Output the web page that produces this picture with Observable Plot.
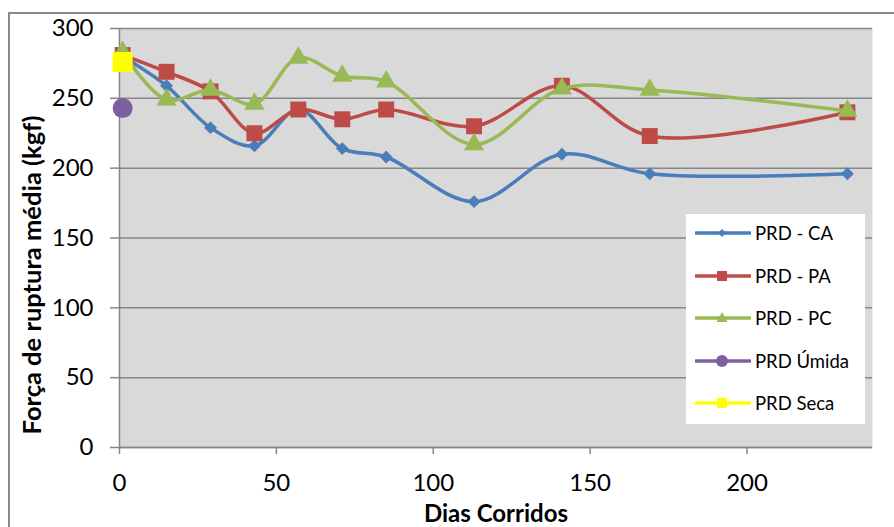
<!DOCTYPE html>
<html>
<head>
<meta charset="utf-8">
<script src="https://cdn.jsdelivr.net/npm/d3@7"></script>
<script src="https://cdn.jsdelivr.net/npm/@observablehq/plot@0.6"></script>
<style>
  html, body { margin: 0; padding: 0; background: #fff; overflow: hidden; }
  #wrap { position: relative; width: 894px; height: 527px; font-family: Lato, "Open Sans", sans-serif; }
  #border { position: absolute; left: 8px; top: 12px; width: 900px; height: 540px; border: 2px solid #8a8a8a; box-sizing: border-box; }
  #chart { position: absolute; left: 0; top: 0; }
  #legend { position: absolute; left: 686px; top: 214px; width: 179px; height: 210px; background: #fff; }
  .item { position: absolute; left: 0; height: 30px; display: flex; align-items: center; font-size: 18.5px; color: #000; }
  .item svg { margin-left: 9px; margin-right: 4px; }
</style>
</head>
<body>
<div id="wrap">
  <div id="border"></div>
  <div id="chart"></div>
  <div id="legend"></div>
</div>
<script>
// ---- data ----
const dias = [1, 15, 29, 43, 57, 71, 85, 113, 141, 169, 232];
const ca = [280, 259, 229, 216, 242, 214, 208, 176, 210, 196, 196];
const pa = [281, 269, 255, 225, 242, 235, 242, 230, 259, 223, 240];
const pc = [283, 249, 256, 246, 279, 266, 262, 217, 257, 256, 241];
const umidaDia = [1];
const umida = [243];
const secaDia = [1];
const seca = [276];
const seriesNames = ["PRD - CA", "PRD - PA", "PRD - PC", "PRD Úmida", "PRD Seca"];
const xTicks = [0, 50, 100, 150, 200];
const yTicks = [0, 50, 100, 150, 200, 250, 300];
const xLabel = "Dias Corridos";
const yLabel = "Força de ruptura média (kgf)";

const colors = ["#4a7ebb", "#be4b48", "#98b954", "#7d60a0", "#ffff00"];
const symbols = ["diamond2", "square", "triangle", "circle", "square"];

const mk = (xs, ys, s) => xs.map((d, i) => ({dia: d, v: ys[i], s}));
const dCA = mk(dias, ca, seriesNames[0]);
const dPA = mk(dias, pa, seriesNames[1]);
const dPC = mk(dias, pc, seriesNames[2]);
const dUm = mk(umidaDia, umida, seriesNames[3]);
const dSe = mk(secaDia, seca, seriesNames[4]);

const fontFam = 'Lato, "Open Sans", sans-serif';
const lineW = 3.5;

const plot = Plot.plot({
  width: 894,
  height: 527,
  marginLeft: 119,
  marginRight: 22,
  marginTop: 28,
  marginBottom: 80,
  style: {fontFamily: fontFam, background: "transparent", overflow: "visible"},
  x: {domain: [0, 240]},
  y: {domain: [0, 300]},
  marks: [
    Plot.frame({fill: "#d9d9d9", stroke: null}),
    Plot.gridY(yTicks, {stroke: "#868686", strokeOpacity: 1, strokeWidth: 1.5}),
    Plot.ruleX([0], {stroke: "#868686", strokeWidth: 1.5}),
    Plot.ruleY([0], {stroke: "#868686", strokeWidth: 1.5}),
    Plot.axisY(yTicks, {tickSize: 9, tickPadding: 17, fontSize: 24, label: null, stroke: "#868686", strokeWidth: 1.5, fill: "#000"}),
    Plot.axisX(xTicks, {tickSize: 7, tickPadding: 19, fontSize: 24, label: null, stroke: "#868686", strokeWidth: 1.5, fill: "#000"}),
    // CA
    Plot.line(dCA, {x: "dia", y: "v", curve: "catmull-rom", stroke: colors[0], strokeWidth: lineW}),
    Plot.dot(dCA, {x: "dia", y: "v", symbol: () => symbols[0], r: 5.8, fill: colors[0], stroke: null}),
    // PA
    Plot.line(dPA, {x: "dia", y: "v", curve: "catmull-rom", stroke: colors[1], strokeWidth: lineW}),
    Plot.dot(dPA, {x: "dia", y: "v", symbol: () => symbols[1], r: 9, fill: colors[1], stroke: null}),
    // PC
    Plot.line(dPC, {x: "dia", y: "v", curve: "catmull-rom", stroke: colors[2], strokeWidth: lineW}),
    Plot.dot(dPC, {x: "dia", y: "v", symbol: () => symbols[2], r: 7.5, fill: colors[2], stroke: null}),
    // Úmida
    Plot.dot(dUm, {x: "dia", y: "v", symbol: () => symbols[3], r: 10, fill: colors[3], stroke: null}),
    // Seca
    Plot.dot(dSe, {x: "dia", y: "v", symbol: () => symbols[4], r: 11.3, fill: colors[4], stroke: null}),
    // axis titles
    Plot.text([xLabel], {frameAnchor: "bottom", dy: 74, fontSize: 24, fontWeight: "bold", fill: "#000", text: d => d}),
    Plot.text([yLabel], {frameAnchor: "left", textAnchor: "middle", rotate: -90, dx: -87, dy: 37, fontSize: 25.5, fontWeight: "bold", fill: "#000", text: d => d})
  ]
});
document.getElementById("chart").appendChild(plot);

// ---- legend ----
const legend = document.getElementById("legend");
const swatchSym = [
  (c) => `<path d="M27 4 L31 8 L27 12 L23 8 Z" fill="${c}"/>`,
  (c) => `<rect x="22" y="3" width="10" height="10" fill="${c}"/>`,
  (c) => `<path d="M27 2 L32.5 12 L21.5 12 Z" fill="${c}"/>`,
  (c) => `<circle cx="27" cy="8" r="6" fill="${c}"/>`,
  (c) => `<rect x="22" y="3" width="10" height="10" fill="${c}"/>`
];
const itemTops = [4, 47, 89, 132, 174];
seriesNames.forEach((name, i) => {
  const div = document.createElement("div");
  div.className = "item";
  div.style.top = itemTops[i] + "px";
  div.innerHTML = `<svg width="56" height="16"><line x1="1" y1="8" x2="55" y2="8" stroke="${colors[i]}" stroke-width="3.5" stroke-linecap="round"/>${swatchSym[i](colors[i])}</svg><span>${name}</span>`;
  legend.appendChild(div);
});
</script>
</body>
</html>
